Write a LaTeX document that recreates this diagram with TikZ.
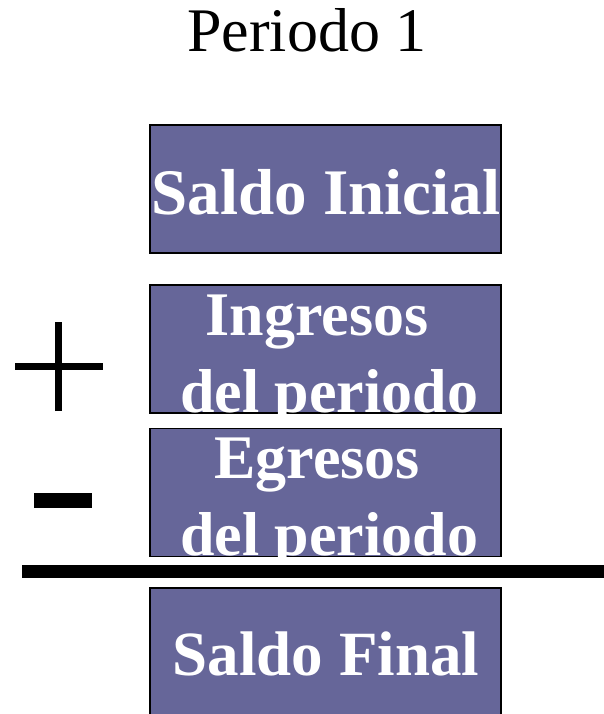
\documentclass[tikz,border=0pt]{standalone}
\usepackage{fontspec}
\setmainfont{Liberation Serif}
\usepackage{xcolor}
\usetikzlibrary{positioning}
\definecolor{cajaazul}{HTML}{666699}

\begin{document}
\begin{tikzpicture}[x=1pt,y=-1pt,
	caja/.style={draw=black,line width=1.3pt,fill=cajaazul,minimum width=351pt,minimum height=128pt,inner sep=0pt},
	rotulo/.style={text=white,font=\fontsize{62}{77}\selectfont\bfseries,inner sep=0pt,anchor=base},
	signo/.style={line width=7pt}]
	\useasboundingbox (0,0) rectangle (604,714);
	\node[font=\fontsize{62}{70}\selectfont,inner sep=0pt,anchor=base] (titulo) at (307,52) {Periodo 1};
	% cajas
	\node[caja] (ini) at (325.5,189) {};
	\node[caja] (ing) at (325.5,349) {};
	\node[caja] (egr) at (325.5,492.5) {};
	\node[caja] (fin) at (325.5,652) {};
	% textos
	\node[rotulo,font=\fontsize{65}{77}\selectfont\bfseries] (tini) at (326,214) {Saldo Inicial};
	\node[rotulo] (ting1) at (317,335) {Ingresos};
	\node[rotulo] (ting2) at (329,412) {del periodo};
	\node[rotulo] (tegr1) at (317,478) {Egresos};
	\node[rotulo] (tegr2) at (329,555) {del periodo};
	\node[rotulo,font=\fontsize{63}{77}\selectfont\bfseries] (tfin) at (326,675) {Saldo Final};
	% signos y raya
	\coordinate (mas) at (58,366);
	\draw[signo] ([xshift=-43pt]mas) -- ([xshift=45pt]mas);
	\draw[signo] ([yshift=-45pt]mas) -- ([yshift=44pt]mas);
	\coordinate (menos) at (63,500.5);
	\draw[line width=15pt] ([xshift=-29pt]menos) -- ([xshift=29pt]menos);
	\coordinate (rayaA) at (22,571.5);
	\coordinate (rayaB) at (604,571.5);
	\draw[line width=13pt] (rayaA) -- (rayaB);
\end{tikzpicture}
\end{document}
